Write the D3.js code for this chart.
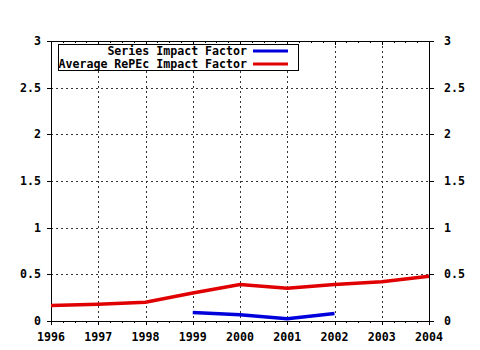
<!DOCTYPE html>
<html>
<head>
<meta charset="utf-8">
<script src="https://cdn.jsdelivr.net/npm/d3@7/dist/d3.min.js"></script>
<style>
  html, body { margin: 0; padding: 0; background: #fff; }
  text { font-family: "DejaVu Sans Mono", "Liberation Mono", monospace; font-weight: bold; font-size: 11.6px; fill: #000; }
</style>
</head>
<body>
<svg id="chart" width="480" height="350"></svg>
<script>
// Yearly impact factors
const years = [1996, 1997, 1998, 1999, 2000, 2001, 2002, 2003, 2004];
const seriesYears = [1999, 2000, 2001, 2002];
const seriesImpact = [0.09, 0.067, 0.024, 0.08];
const averageImpact = [0.166, 0.18, 0.20, 0.30, 0.39, 0.35, 0.39, 0.42, 0.48];
const yTicks = [0, 0.5, 1, 1.5, 2, 2.5, 3];
const yTickLabels = ["0", "0.5", "1", "1.5", "2", "2.5", "3"];
const legendLabels = ["Series Impact Factor", "Average RePEc Impact Factor"];
const legendColors = ["#0000dd", "#e00000"];

const svg = d3.select("#chart");
const plotL = 51, plotR = 429, plotT = 41, plotB = 321;

const x = d3.scaleLinear().domain([1996, 2004]).range([plotL, plotR]);
const y = d3.scaleLinear().domain([0, 3]).range([plotB, plotT]);

// dotted grid
const grid = svg.append("g").attr("stroke", "#333").attr("stroke-width", 1).attr("stroke-dasharray", "2,3");
grid.selectAll("line.v").data(years.slice(1, -1)).enter().append("line")
  .attr("x1", d => Math.round(x(d)) + 0.5).attr("x2", d => Math.round(x(d)) + 0.5)
  .attr("y1", plotT).attr("y2", plotB);
grid.selectAll("line.h").data(yTicks.slice(1, -1)).enter().append("line")
  .attr("y1", d => Math.round(y(d)) + 0.5).attr("y2", d => Math.round(y(d)) + 0.5)
  .attr("x1", plotL).attr("x2", plotR);

// minor ticks (quarter years) along top and bottom
const quarters = d3.range(1996, 2004.001, 0.25);
const axisG = svg.append("g").attr("stroke", "#000").attr("stroke-width", 1).attr("shape-rendering", "crispEdges");
quarters.forEach(q => {
  const major = Math.abs(q - Math.round(q)) < 1e-6;
  const xx = Math.round(x(q)) + 0.5;
  axisG.append("line").attr("x1", xx).attr("x2", xx).attr("y1", plotT).attr("y2", plotT + (major ? 4 : 2));
  axisG.append("line").attr("x1", xx).attr("x2", xx).attr("y1", plotB).attr("y2", plotB + (major ? 4 : 2));
});

// frame
axisG.append("line").attr("x1", plotL + 0.5).attr("x2", plotL + 0.5).attr("y1", plotT).attr("y2", plotB + 1);
axisG.append("line").attr("x1", plotR + 0.5).attr("x2", plotR + 0.5).attr("y1", plotT).attr("y2", plotB + 1);
axisG.append("line").attr("x1", plotL).attr("x2", plotR + 1).attr("y1", plotT + 0.5).attr("y2", plotT + 0.5);
axisG.append("line").attr("x1", plotL).attr("x2", plotR + 1).attr("y1", plotB + 0.5).attr("y2", plotB + 0.5);

// y ticks, both sides
yTicks.forEach(t => {
  const yy = Math.round(y(t)) + 0.5;
  axisG.append("line").attr("x1", plotL - 4).attr("x2", plotL).attr("y1", yy).attr("y2", yy);
  axisG.append("line").attr("x1", plotR).attr("x2", plotR + 5).attr("y1", yy).attr("y2", yy);
});

// y labels
svg.selectAll("text.yl").data(yTicks).enter().append("text")
  .attr("x", plotL - 10).attr("y", d => y(d)).attr("dy", "0.35em").attr("text-anchor", "end")
  .text((d, i) => yTickLabels[i]);
svg.selectAll("text.yr").data(yTicks).enter().append("text")
  .attr("x", plotR + 15).attr("y", d => y(d)).attr("dy", "0.35em").attr("text-anchor", "start")
  .text((d, i) => yTickLabels[i]);

// x labels
svg.selectAll("text.xl").data(years).enter().append("text")
  .attr("x", d => x(d)).attr("y", 337).attr("dy", "0.35em").attr("text-anchor", "middle")
  .text(d => d);

// data lines
const line = d3.line().x(d => x(d[0])).y(d => y(d[1]));
svg.append("path").datum(years.map((yr, i) => [yr, averageImpact[i]]))
  .attr("d", line).attr("fill", "none").attr("stroke", legendColors[1]).attr("stroke-width", 3.5);
svg.append("path").datum(seriesYears.map((yr, i) => [yr, seriesImpact[i]]))
  .attr("d", line).attr("fill", "none").attr("stroke", legendColors[0]).attr("stroke-width", 3.5);

// legend
const lg = svg.append("g");
lg.append("rect").attr("x", 58.5).attr("y", 44.5).attr("width", 240).attr("height", 26)
  .attr("fill", "#fff").attr("stroke", "#000").attr("stroke-width", 1);
legendLabels.forEach((lab, i) => {
  const ly = 51 + i * 13;
  lg.append("text").attr("x", 247).attr("y", ly).attr("dy", "0.35em").attr("text-anchor", "end").text(lab);
  lg.append("line").attr("x1", 253).attr("x2", 288).attr("y1", ly).attr("y2", ly)
    .attr("stroke", legendColors[i]).attr("stroke-width", 3);
});
</script>
</body>
</html>
